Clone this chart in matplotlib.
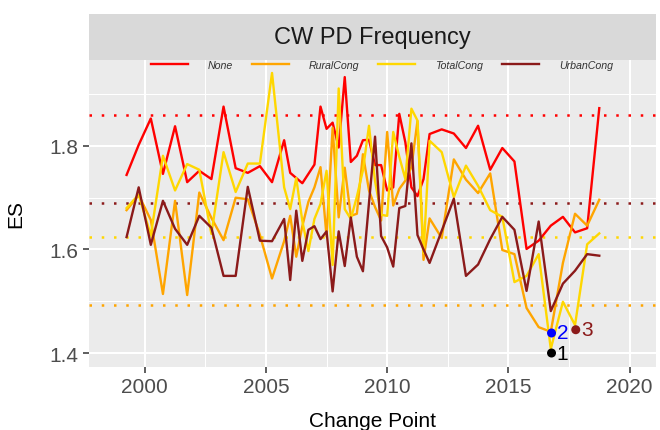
import matplotlib
matplotlib.use("Agg")
import matplotlib.pyplot as plt
from matplotlib.ticker import MultipleLocator

plt.rcParams['font.family'] = ['Liberation Sans', 'DejaVu Sans']

# ---------------- data ----------------
years = [1999.25, 1999.75, 2000.25, 2000.75, 2001.25, 2001.75, 2002.25, 2002.75,
         2003.25, 2003.75, 2004.25, 2004.75, 2005.25, 2005.75,
         2006.0, 2006.25, 2006.5, 2006.75, 2007.0, 2007.25, 2007.5, 2007.75,
         2008.0, 2008.25, 2008.5, 2008.75, 2009.0, 2009.25, 2009.5, 2009.75,
         2010.0, 2010.25, 2010.5, 2010.75, 2011.0, 2011.25, 2011.5, 2011.75,
         2012.25, 2012.75, 2013.25, 2013.75, 2014.25, 2014.75, 2015.25, 2015.75,
         2016.25, 2016.75, 2017.25, 2017.75, 2018.25, 2018.75]

es_none = [1.744, 1.802, 1.853, 1.746, 1.838, 1.730, 1.752, 1.736,
           1.876, 1.757, 1.748, 1.761, 1.730, 1.811,
           1.748, 1.738, 1.728, 1.746, 1.764, 1.876, 1.833, 1.845,
           1.797, 1.933, 1.769, 1.781, 1.811, 1.812, 1.763, 1.763,
           1.714, 1.720, 1.862, 1.807, 1.720, 1.703, 1.736, 1.823,
           1.832, 1.824, 1.796, 1.839, 1.754, 1.796, 1.770, 1.601,
           1.617, 1.646, 1.663, 1.633, 1.641, 1.873]

es_rural = [1.676, 1.705, 1.657, 1.514, 1.694, 1.512, 1.710, 1.661,
            1.618, 1.700, 1.697, 1.628, 1.544, 1.616,
            1.665, 1.586, 1.645, 1.692, 1.720, 1.759, 1.625, 1.835,
            1.662, 1.758, 1.665, 1.669, 1.784, 1.714, 1.682, 1.656,
            1.827, 1.685, 1.717, 1.733, 1.759, 1.848, 1.580, 1.660,
            1.622, 1.774, 1.735, 1.709, 1.747, 1.599, 1.591, 1.487,
            1.450, 1.441, 1.574, 1.669, 1.646, 1.696]

es_total = [1.680, 1.706, 1.627, 1.781, 1.714, 1.765, 1.754, 1.630,
            1.788, 1.711, 1.766, 1.766, 1.941, 1.720,
            1.678, 1.738, 1.655, 1.597, 1.659, 1.688, 1.752, 1.570,
            1.911, 1.678, 1.659, 1.702, 1.753, 1.839, 1.732, 1.667,
            1.665, 1.827, 1.779, 1.736, 1.872, 1.849, 1.593, 1.810,
            1.788, 1.701, 1.762, 1.723, 1.676, 1.663, 1.537, 1.549,
            1.591, 1.408, 1.499, 1.454, 1.610, 1.631]

es_urban = [1.624, 1.720, 1.609, 1.694, 1.640, 1.609, 1.665, 1.642,
            1.549, 1.549, 1.721, 1.617, 1.616, 1.659,
            1.541, 1.675, 1.578, 1.638, 1.645, 1.620, 1.635, 1.519,
            1.635, 1.568, 1.662, 1.586, 1.558, 1.690, 1.818, 1.626,
            1.604, 1.567, 1.680, 1.684, 1.805, 1.628, 1.600, 1.574,
            1.636, 1.698, 1.549, 1.571, 1.620, 1.663, 1.638, 1.520,
            1.654, 1.481, 1.534, 1.559, 1.591, 1.588]

series_names = ['None', 'RuralCong', 'TotalCong', 'UrbanCong']
series_values = [es_none, es_rural, es_total, es_urban]
series_colors = ['#FF0000', '#FFA500', '#FFD700', '#8B1A1A']
mean_levels = [1.8605, 1.4928, 1.6236, 1.689]

cp_years = [2016.78, 2016.78, 2017.78]
cp_values = [1.400, 1.4387, 1.445]
cp_labels = ['1', '2', '3']
cp_colors = ['#000000', '#0000FF', '#8B1A1A']

x_ticks = [2000, 2005, 2010, 2015, 2020]
y_ticks = [1.4, 1.6, 1.8]

# ---------------- figure ----------------
W, H = 660, 431
fig = plt.figure(figsize=(W / 100, H / 100), dpi=100)
pl, pr, pt, pb = 89, 656, 61, 368
ax = fig.add_axes([pl / W, 1 - pb / H, (pr - pl) / W, (pb - pt) / H])
strip = fig.add_axes([pl / W, 1 - pt / H, (pr - pl) / W, (pt - 15) / H])

strip.set_facecolor('#D9D9D9')
strip.set_xticks([]); strip.set_yticks([])
for s in strip.spines.values():
    s.set_visible(False)
strip.text(0.5, 0.5, 'CW PD Frequency', ha='center', va='center',
           fontsize=17, color='#1A1A1A', transform=strip.transAxes)

ax.set_facecolor('#EBEBEB')
for s in ax.spines.values():
    s.set_visible(False)
ax.set_xlim(1997.7, 2021.09)
ax.set_ylim(1.373, 1.966)
ax.set_xticks(x_ticks)
ax.set_yticks(y_ticks)
ax.set_yticklabels([f'{v:.1f}' for v in y_ticks])
ax.xaxis.set_minor_locator(MultipleLocator(2.5))
ax.yaxis.set_minor_locator(MultipleLocator(0.1))
ax.grid(which='major', color='white', lw=1.5)
ax.grid(which='minor', color='white', lw=0.75)
ax.set_axisbelow(True)
ax.tick_params(which='major', length=4.5, width=1.1, color='#333333',
               labelsize=15, labelcolor='#4D4D4D', pad=3)
ax.tick_params(which='minor', length=0)

lines = []
for name, vals, col in zip(series_names, series_values, series_colors):
    ln, = ax.plot(years, vals, color=col, lw=1.7, label=name, zorder=3)
    lines.append(ln)

for lvl, col in zip(mean_levels, series_colors):
    ax.axhline(lvl, color=col, lw=1.8, linestyle=(0, (1, 3.9)), zorder=2)

for x, y, lab, col in zip(cp_years, cp_values, cp_labels, cp_colors):
    ax.scatter([x], [y], s=42, color=col, zorder=5, edgecolors='none')
    ax.text(x + 0.22, y, lab, color=col, fontsize=15, ha='left', va='center', zorder=6)

leg = fig.legend(handles=lines, labels=series_names, loc='center',
                 bbox_to_anchor=(382 / W, 1 - 66 / H), ncol=4, frameon=False,
                 prop={'style': 'italic', 'size': 7.7}, handlelength=3.46,
                 handletextpad=1.87, columnspacing=1.78, borderpad=0)
for t in leg.get_texts():
    t.set_color('#333333')

fig.text(16 / W, 1 - 214.5 / H, 'ES', rotation=90, ha='center', va='center',
         fontsize=15, color='black')
fig.text((pl + pr) / 2 / W, 1 - 427 / H, 'Change Point', ha='center', va='baseline',
         fontsize=15, color='black')

fig.savefig('out.png', dpi=100)
